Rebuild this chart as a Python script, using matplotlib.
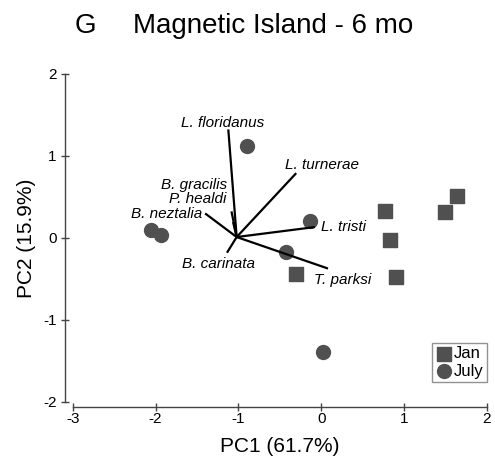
import numpy as np
import matplotlib.pyplot as plt

plt.rcParams['font.family'] = ['Liberation Sans', 'DejaVu Sans']
plt.rcParams['axes.unicode_minus'] = False

# sample scores
jan_x = [0.77, 0.83, 1.49, 1.64, 0.90, -0.30]
jan_y = [0.33, -0.03, 0.31, 0.51, -0.48, -0.44]
jul_x = [-0.89, -2.06, -1.93, -0.14, -0.42, 0.02]
jul_y = [1.12, 0.09, 0.04, 0.21, -0.17, -1.39]

# species vectors
origin = (-1.02, 0.01)
species = ['L. floridanus', 'L. turnerae', 'B. gracilis', 'P. healdi',
           'B. neztalia', 'L. tristi', 'B. carinata', 'T. parksi']
vec_x = [-1.12, -0.31, -1.08, -1.06, -1.39, -0.09, -1.13, 0.07]
vec_y = [1.31, 0.78, 0.31, 0.18, 0.29, 0.13, -0.17, -0.37]
lab_x = [-1.19, 0.01, -1.14, -1.15, -1.43, 0.00, -1.24, -0.09]
lab_y = [1.40, 0.89, 0.64, 0.47, 0.29, 0.13, -0.32, -0.51]
lab_ha = ['center', 'center', 'right', 'right', 'right', 'left', 'center', 'left']

fig = plt.figure(figsize=(4.95, 4.61), dpi=100)
ax = fig.add_axes([0.1469, 0.1286, 0.8364, 0.7109])
ax.set_xlim(-3, 2)
ax.set_ylim(-2, 2)

grey = '#505050'
for i in range(len(species)):
    ax.plot([origin[0], vec_x[i]], [origin[1], vec_y[i]], color='black', lw=1.6, zorder=3)
    ax.text(lab_x[i], lab_y[i], species[i], style='italic', fontsize=11,
            ha=lab_ha[i], va='center', zorder=4)

ax.scatter(jan_x, jan_y, marker='s', s=100, color=grey, label='Jan', zorder=2)
ax.scatter(jul_x, jul_y, marker='o', s=100, color=grey, label='July', zorder=2)

# R style detached axes
for s in ['top', 'right']:
    ax.spines[s].set_visible(False)
ax.spines['left'].set_position(('outward', 5.5))
ax.spines['bottom'].set_position(('outward', 3.6))
ax.spines['left'].set_bounds(-2, 2)
ax.spines['bottom'].set_bounds(-3, 2)
for s in ['left', 'bottom']:
    ax.spines[s].set_color('#444444')
    ax.spines[s].set_linewidth(1.0)
ax.set_xticks([-3, -2, -1, 0, 1, 2])
ax.set_yticks([-2, -1, 0, 1, 2])
ax.tick_params(direction='inout', length=6, width=1.0, color='#444444',
               labelsize=11, pad=1)
ax.tick_params(axis='y', pad=3)
ax.set_xlabel('PC1 (61.7%)', fontsize=15, labelpad=8)
ax.set_ylabel('PC2 (15.9%)', fontsize=15, labelpad=5)

leg = ax.legend(loc='lower right', bbox_to_anchor=(1.0, 0.06), fontsize=12,
                frameon=True, fancybox=False, handletextpad=0.1,
                borderpad=0.2, labelspacing=0.15, handlelength=1.0,
                borderaxespad=0.0)
leg.get_frame().set_edgecolor('#777777')
leg.get_frame().set_linewidth(1.0)

fig.text(0.172, 0.928, 'G', fontsize=20, ha='center', va='baseline')
fig.text(0.268, 0.928, 'Magnetic Island - 6 mo', fontsize=20, ha='left', va='baseline')

plt.savefig('out.png', dpi=100)
